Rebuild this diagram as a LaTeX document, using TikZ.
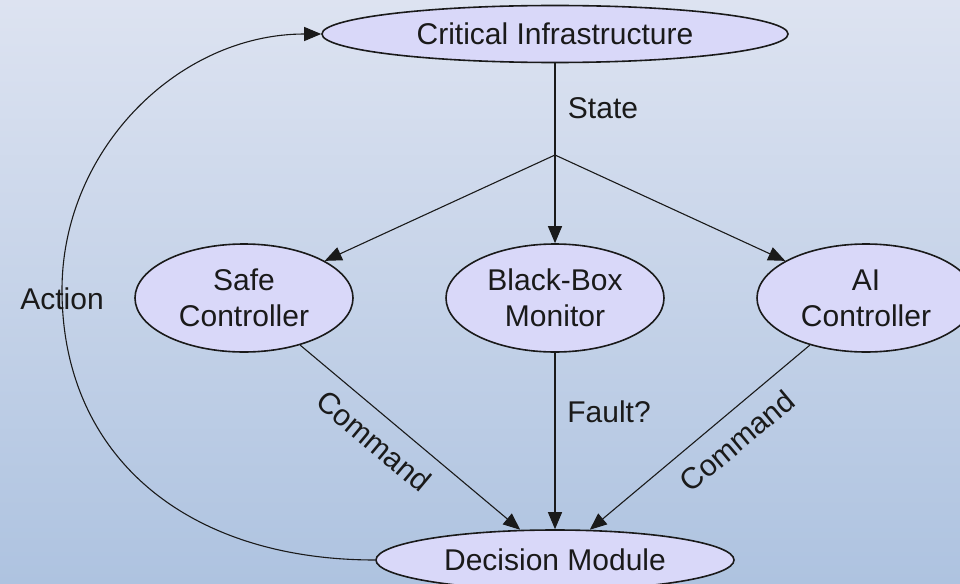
\documentclass[tikz,border=0pt]{standalone}
\usepackage{fontspec}
\setmainfont{Liberation Sans}
\usetikzlibrary{shapes.geometric,arrows.meta}
\definecolor{bgtop}{HTML}{DDE3F1}
\definecolor{bgbot}{HTML}{AEC3E0}
\definecolor{nodefill}{HTML}{D9D8F9}
\definecolor{ink}{HTML}{1A1A1A}
\tikzset{
  blob/.style={ellipse, draw=ink, line width=1.6pt, fill=nodefill, inner sep=0pt,
    align=center, text=ink, font=\fontsize{30}{36}\selectfont},
  conn/.style={draw=ink, line width=1.1pt},
  arr/.style={conn, -{Triangle[length=17pt,width=14pt]}},
  lbl/.style={text=ink, font=\fontsize{30}{36}\selectfont, inner sep=0pt}
}
\begin{document}
\begin{tikzpicture}[x=1pt,y=-1pt]
\useasboundingbox (0,0) rectangle (960,583);
\clip (0,0) rectangle (960,583);
\shade[top color=bgtop, bottom color=bgbot] (0,0) rectangle (960,583);

\node[blob, minimum width=466pt, minimum height=57pt] (ci) at (555,34) {Critical Infrastructure};
\node[blob, minimum width=218pt, minimum height=108pt] (safe) at (244,298) {Safe\\Controller};
\node[blob, minimum width=218pt, minimum height=108pt] (mon) at (555,298) {Black-Box\\Monitor};
\node[blob, minimum width=218pt, minimum height=108pt] (ai) at (866,298) {AI\\Controller};
\node[blob, minimum width=358pt, minimum height=60pt] (dm) at (555,560) {Decision Module};

\coordinate (j) at (555,155);

\draw[conn] (ci) -- (j);
\draw[arr] (j) -- (safe);
\draw[arr] (j) -- (mon);
\draw[arr] (j) -- (ai);

\draw[arr] (safe) -- (dm.139);
\draw[arr] (mon) -- (dm);
\draw[arr] (ai) -- (dm.41);

\draw[arr] (dm.west) .. controls (185,560) and (62,455) .. (62,290)
                     .. controls (62,150) and (178,34) .. (ci.west);

\node[lbl] (lstate) at (603,108) {State};
\node[lbl] (lfault) at (609,412) {Fault?};
\node[lbl, rotate=-40] (lcmd1) at (374,441) {Command};
\node[lbl, rotate=40] (lcmd2) at (737,441) {Command};
\node[lbl] (laction) at (62,299) {Action};
\end{tikzpicture}
\end{document}
